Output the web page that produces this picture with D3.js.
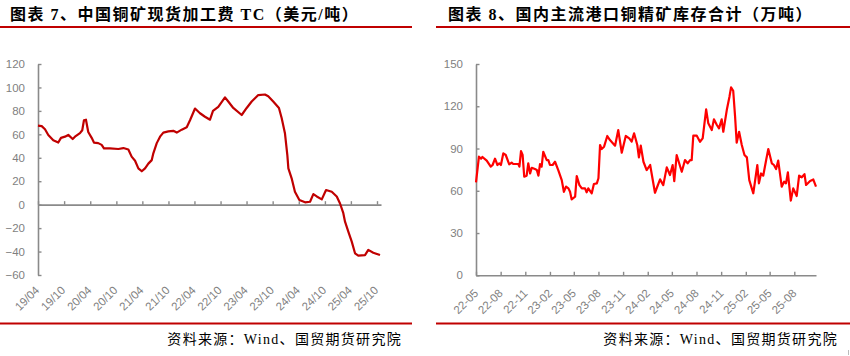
<!DOCTYPE html>
<html><head><meta charset="utf-8">
<script src="https://cdn.jsdelivr.net/npm/d3@7"></script>
<style>
html,body{margin:0;padding:0;background:#fff;}
svg{display:block;}
</style></head>
<body>
<svg id="c" width="850" height="356"></svg>
<script>
// ---------- Data: chart 7 (TC, USD/t) ----------
const tcDates = ["2019-04-01","2019-04-27","2019-05-20","2019-06-12","2019-07-17","2019-08-21","2019-09-09","2019-10-07","2019-10-30","2019-11-30","2019-12-16","2020-01-20","2020-02-05","2020-02-17","2020-03-02","2020-03-18","2020-04-11","2020-04-27","2020-05-27","2020-06-20","2020-07-06","2020-08-17","2020-10-15","2020-11-19","2020-12-24","2021-01-16","2021-02-09","2021-03-04","2021-03-28","2021-04-20","2021-05-13","2021-06-06","2021-06-17","2021-07-11","2021-08-03","2021-08-26","2021-09-30","2021-11-04","2021-11-28","2022-01-02","2022-02-06","2022-03-01","2022-04-05","2022-05-10","2022-06-14","2022-07-19","2022-08-09","2022-09-15","2022-11-01","2022-11-24","2022-12-29","2023-02-26","2023-04-02","2023-05-07","2023-06-22","2023-08-08","2023-08-31","2023-10-05","2023-11-14","2023-12-03","2023-12-26","2024-01-12","2024-01-19","2024-02-11","2024-03-05","2024-04-05","2024-05-15","2024-06-19","2024-07-12","2024-08-05","2024-09-09","2024-10-09","2024-11-18","2024-12-23","2025-01-15","2025-02-07","2025-02-19","2025-03-14","2025-04-07","2025-04-30","2025-05-23","2025-07-09","2025-08-01","2025-09-05","2025-10-22"];
const tcValues = [67.4,67,64.3,59.4,55,53,57,58,59.5,56,58,61,63.5,72,72.5,62,57,53,52.5,51,48,48,47.5,48.3,47,41,37.5,31,28.5,31,35,38,43.8,52.5,58,61.5,62.5,63,61.5,64,66,72,82,78,75,72.5,80,83.5,91.5,88,82.5,76.5,82.5,88,93.5,94,92.5,88,82.5,74,61,42,31,22.5,11,4,2,2.5,9,7,4.5,12.5,11,7,1,-7.3,-14.5,-23,-31.5,-41.5,-43.5,-43,-38.6,-41,-43];
const tcXTicks = ["2019-04-01","2019-10-01","2020-04-01","2020-10-01","2021-04-01","2021-10-01","2022-04-01","2022-10-01","2023-04-01","2023-10-01","2024-04-01","2024-10-01","2025-04-01","2025-10-01"];
const tcYTicks = [-60,-40,-20,0,20,40,60,80,100,120];

// ---------- Data: chart 8 (port inventory, 10k t) ----------
const invDates = ["2022-05-01","2022-05-12","2022-05-20","2022-05-25","2022-06-10","2022-06-25","2022-07-02","2022-07-11","2022-07-20","2022-07-27","2022-08-02","2022-08-11","2022-08-20","2022-09-02","2022-09-11","2022-09-17","2022-10-06","2022-10-10","2022-10-16","2022-10-22","2022-10-28","2022-11-06","2022-11-12","2022-11-19","2022-11-25","2022-12-07","2022-12-14","2022-12-20","2022-12-26","2023-01-01","2023-01-07","2023-01-20","2023-01-26","2023-02-01","2023-02-11","2023-02-20","2023-03-04","2023-03-17","2023-03-25","2023-04-02","2023-04-11","2023-04-17","2023-04-23","2023-05-06","2023-05-12","2023-05-22","2023-05-31","2023-06-12","2023-06-18","2023-06-24","2023-07-07","2023-07-15","2023-07-26","2023-08-01","2023-08-07","2023-08-13","2023-08-22","2023-09-03","2023-09-13","2023-10-02","2023-10-14","2023-10-27","2023-11-11","2023-11-24","2023-12-03","2023-12-12","2023-12-24","2023-12-30","2024-01-06","2024-01-16","2024-01-28","2024-02-10","2024-02-28","2024-03-18","2024-03-30","2024-04-12","2024-04-24","2024-05-04","2024-05-10","2024-05-19","2024-06-07","2024-06-19","2024-06-29","2024-07-08","2024-07-14","2024-07-20","2024-08-02","2024-08-14","2024-08-24","2024-09-06","2024-09-14","2024-09-27","2024-10-05","2024-10-16","2024-10-24","2024-11-03","2024-11-09","2024-11-22","2024-12-02","2024-12-08","2024-12-16","2024-12-23","2024-12-29","2025-01-07","2025-01-17","2025-01-27","2025-02-05","2025-02-14","2025-03-01","2025-03-16","2025-03-22","2025-03-30","2025-04-07","2025-04-18","2025-04-26","2025-05-09","2025-05-17","2025-05-25","2025-06-02","2025-06-15","2025-06-24","2025-07-01","2025-07-08","2025-07-19","2025-07-28","2025-08-10","2025-08-19","2025-08-29","2025-09-08","2025-09-14","2025-09-29","2025-10-11","2025-10-21"];
const invValues = [66,84.2,82.8,84,81.4,77.1,78.3,82.8,78.3,79.5,78.3,86.6,85.4,78.8,80,79,79,77.1,88.2,85.4,70,70.7,79.5,72.3,76.3,75.4,74.7,70.7,79,77.1,87.7,81.8,81.8,78.3,78.3,80.6,74.7,67.6,59.3,63,61.7,59.3,53.9,55.8,70.5,64,61.7,61.7,58.9,61.7,58.2,64.8,65.3,68.9,92.5,89.6,91.3,98.9,96,92,103.1,87,98.9,97.2,94.9,100.8,92.5,83.7,92,80.6,74.7,78.3,58.6,68.1,64,76.6,71.2,78.3,66.9,85.4,73.5,81.8,79.5,81.8,81.8,99.1,99.1,94.8,97.2,117.8,107.9,103.1,110.7,106.7,104.3,110.7,101.9,117.3,126.8,133.4,131,112.6,94.1,101.9,92.5,85.4,83.7,67.6,58.2,78.3,65.3,72.3,70.7,81.8,89.6,79.5,78.3,75.4,81.4,62.9,66.5,65.3,73.1,53,61.7,56.3,70.7,69.6,71.8,64.1,67,68,62.9];
const invXTicks = ["2022-05-01","2022-08-01","2022-11-01","2023-02-01","2023-05-01","2023-08-01","2023-11-01","2024-02-01","2024-05-01","2024-08-01","2024-11-01","2025-02-01","2025-05-01","2025-08-01"];
const invYTicks = [0,30,60,90,120,150];

// ---------- Texts ----------
const title7 = "图表 7、中国铜矿现货加工费 TC（美元/吨）";
const title8 = "图表 8、国内主流港口铜精矿库存合计（万吨）";
const sourceText = "资料来源：Wind、国贸期货研究院";

const parse = d3.timeParse("%Y-%m-%d");
const svg = d3.select("#c");
svg.append("rect").attr("width",850).attr("height",356).attr("fill","#fff");

const AXIS = "#8a8a8a";
const LBL = "#7f7f7f";
const TITLE_FONT = "'Liberation Serif','Noto Sans CJK SC',serif";
const TICK_FONT = "'Liberation Sans',Arial,sans-serif";

function frame(x0, x1, tx, title, srcRight){
  svg.append("text").attr("x",tx).attr("y",20)
    .attr("font-family",TITLE_FONT).attr("font-weight",700)
    .attr("font-size",16).attr("letter-spacing","1.5px").attr("fill","#000").text(title);
  svg.append("line").attr("x1",x0).attr("x2",x1).attr("y1",27).attr("y2",27)
    .attr("stroke","#c00000").attr("stroke-width",2);
  svg.append("line").attr("x1",x0).attr("x2",x1).attr("y1",323.5).attr("y2",323.5)
    .attr("stroke","#c00000").attr("stroke-width",2);
  svg.append("text").attr("x",srcRight).attr("y",344).attr("text-anchor","end")
    .attr("font-family",TITLE_FONT).attr("font-size",14).attr("letter-spacing","1.3px")
    .attr("fill","#000").text(sourceText);
}
frame(0,412,10,title7,402);
frame(436,850,448,title8,838);

function chart(opt){
  const x = d3.scaleTime().domain(opt.xDomain.map(parse)).range(opt.xRange);
  const y = d3.scaleLinear().domain(opt.yDomain).range(opt.yRange);
  const g = svg.append("g");
  // y axis
  const ya = g.append("g").attr("transform",`translate(${opt.xRange[0]},0)`)
    .call(d3.axisLeft(y).tickValues(opt.yTicks).tickSize(-3.5).tickSizeOuter(0).tickPadding(13));
  ya.select(".domain").attr("stroke",AXIS).attr("stroke-width",1.6);
  ya.selectAll(".tick line").attr("stroke",AXIS).attr("stroke-width",1.4);
  ya.selectAll(".tick text").attr("fill",LBL).attr("font-family",TICK_FONT).attr("font-size",11.5);
  // x axis (line at baseline, ticks pointing up)
  const yb = y(opt.baseValue);
  const xa = g.append("g").attr("transform",`translate(0,${yb})`)
    .call(d3.axisBottom(x).tickValues(opt.xTicks.map(parse)).tickSize(-3.5).tickSizeOuter(0).tickFormat(""));
  xa.select(".domain").attr("stroke",AXIS).attr("stroke-width",1.6);
  xa.selectAll(".tick line").attr("stroke",AXIS).attr("stroke-width",1.4);
  // rotated labels
  g.selectAll("text.xl").data(opt.xTicks.map(parse)).enter().append("text")
    .attr("class","xl")
    .attr("transform",d=>`translate(${x(d)+opt.lblDx},${opt.lblY}) rotate(-45)`)
    .attr("text-anchor","end").attr("fill",LBL).attr("font-family",TICK_FONT).attr("font-size",11.5)
    .text(d=>d3.timeFormat(opt.fmt)(d));
  // line
  const data = opt.dates.map((d,i)=>({d:parse(d),v:opt.values[i]}));
  g.append("path").datum(data)
    .attr("d",d3.line().x(p=>x(p.d)).y(p=>y(p.v)).curve(d3.curveLinear))
    .attr("fill","none").attr("stroke",opt.color).attr("stroke-width",2.2)
    .attr("stroke-linejoin","round");
}

chart({xDomain:["2019-04-01","2025-10-29"], xRange:[38,381], yDomain:[-60,120], yRange:[275,64],
  yTicks:tcYTicks, xTicks:tcXTicks, baseValue:0, fmt:"%y/%m", lblDx:2, lblY:291,
  dates:tcDates, values:tcValues, color:"#c00000"});
chart({xDomain:["2022-05-01","2025-10-21"], xRange:[476,816], yDomain:[0,150], yRange:[275.3,64],
  yTicks:invYTicks, xTicks:invXTicks, baseValue:0, fmt:"%y-%m", lblDx:3, lblY:294,
  dates:invDates, values:invValues, color:"#ff0000"});

svg.append("line").attr("x1",848.5).attr("x2",848.5).attr("y1",350).attr("y2",355)
  .attr("stroke","#bbb").attr("stroke-width",1);
</script>
</body></html>
